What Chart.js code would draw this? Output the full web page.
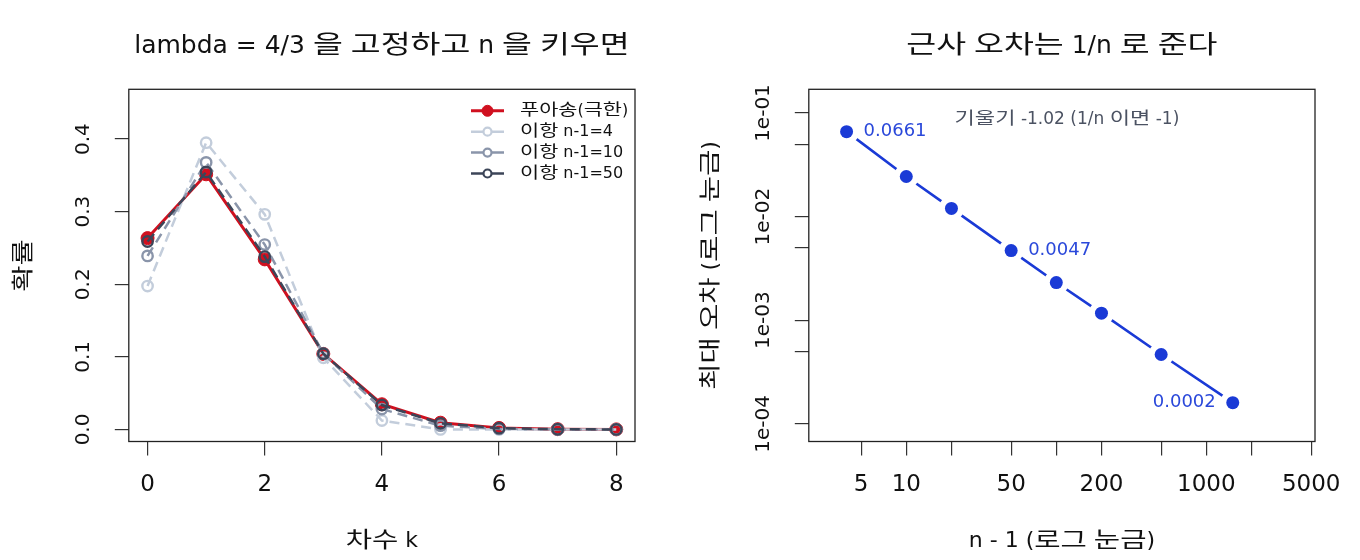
<!DOCTYPE html>
<html>
<head>
<meta charset="utf-8">
<script src="https://cdn.jsdelivr.net/npm/chart.js@4"></script>
<style>
  body { margin: 0; background: #fff; }
  canvas { position: absolute; top: 0; }
</style>
</head>
<body>
<canvas id="left" width="680" height="560" style="left:0"></canvas>
<canvas id="right" width="680" height="560" style="left:680px"></canvas>
<script>
// left panel: P(X=k), lambda = 4/3
const kValues = [0, 1, 2, 3, 4, 5, 6, 7, 8];
const poisson = [0.2636, 0.3515, 0.2343, 0.1041, 0.0347, 0.0093, 0.0021, 0.0004, 0.0001];
const binom4  = [0.1975, 0.3951, 0.2963, 0.0988, 0.0123, 0, 0, 0, 0];
const binom10 = [0.2391, 0.3679, 0.2547, 0.1045, 0.0281, 0.0052, 0.0007, 0.0001, 0];
const binom50 = [0.2589, 0.3547, 0.2381, 0.1044, 0.0336, 0.0085, 0.0017, 0.0003, 0];
const seriesNames = ['푸아송(극한)', '이항 n-1=4', '이항 n-1=10', '이항 n-1=50'];
const leftXTicks = [0, 2, 4, 6, 8];
const leftXTickLabels = ['0', '2', '4', '6', '8'];
const leftYTicks = [0, 0.1, 0.2, 0.3, 0.4];
const leftYTickLabels = ['0.0', '0.1', '0.2', '0.3', '0.4'];

// right panel: max error vs n-1 (log-log)
const errN = [4, 10, 20, 50, 100, 200, 500, 1500];
const maxErr = [0.0661, 0.0244, 0.0120, 0.0047, 0.00231, 0.00117, 0.000467, 0.00016];
const labelledPoints = [0, 3, 7];
const slopeNote = '기울기 -1.02 (1/n 이면 -1)';
const rightXTicks = [5, 10, 20, 50, 100, 200, 500, 1000, 2000, 5000];
const rightXTickLabels = ['5', '10', '', '50', '', '200', '', '1000', '', '5000'];
const rightYTicks = [1e-4, 5e-4, 1e-3, 5e-3, 1e-2, 5e-2, 1e-1];
const rightYTickLabels = ['1e-04', '', '1e-03', '', '1e-02', '', '1e-01'];

const FONT = "'DejaVu Sans', 'Noto Sans CJK KR', sans-serif";
const RED = '#d0101f', BLUE = '#1a3ad6';
const HANGUL = /[\uAC00-\uD7A3]/;

// hangul runs are drawn a bit wider, like the R device font
function drawText(ctx, s, x, y, size, color, align, rot) {
  const runs = s.match(/[\uAC00-\uD7A3]+|[^\uAC00-\uD7A3]+/g) || [];
  ctx.save();
  ctx.translate(x, y);
  if (rot) ctx.rotate(rot);
  ctx.font = size + 'px ' + FONT;
  ctx.fillStyle = color || '#111';
  ctx.textAlign = 'left';
  ctx.textBaseline = 'middle';
  const sc = r => HANGUL.test(r) ? 1.3 : 1;
  const widths = runs.map(r => ctx.measureText(r).width * sc(r));
  const total = widths.reduce((p, w) => p + w, 0);
  let cx = align === 'left' ? 0 : align === 'right' ? -total : -total / 2;
  runs.forEach((r, i) => {
    ctx.save();
    ctx.translate(cx, 0);
    ctx.scale(sc(r), 1);
    ctx.fillText(r, 0, 0);
    ctx.restore();
    cx += widths[i];
  });
  ctx.restore();
}

// box, tick labels and titles drawn R-style
const rFrame = {
  id: 'rFrame',
  afterDraw(chart, args, o) {
    const ctx = chart.ctx, a = chart.chartArea;
    const sx = chart.scales.x, sy = chart.scales.y;
    ctx.save();
    ctx.strokeStyle = '#222';
    ctx.lineWidth = 1.3;
    ctx.strokeRect(a.left, a.top, a.right - a.left, a.bottom - a.top);
    ctx.restore();
    sx.ticks.forEach(t => {
      if (t.label) drawText(ctx, t.label, sx.getPixelForValue(t.value), 485, 23);
    });
    sy.ticks.forEach(t => {
      if (t.label) drawText(ctx, t.label, a.left - 45, sy.getPixelForValue(t.value), 20, null, 'center', -Math.PI / 2);
    });
    drawText(ctx, o.title, (a.left + a.right) / 2, 46, 25);
    drawText(ctx, o.xTitle, (a.left + a.right) / 2, 541, 22);
    drawText(ctx, o.yTitle, o.yTitleX, (a.top + a.bottom) / 2, 22, null, 'center', -Math.PI / 2);
  }
};

const legendBox = {
  id: 'legendBox',
  afterDraw(chart) {
    const ctx = chart.ctx, a = chart.chartArea;
    chart.data.datasets.forEach((ds, i) => {
      const y = a.top + 21.5 + i * 20.9;
      const x0 = a.right - 164, x1 = a.right - 131, xm = (x0 + x1) / 2;
      ctx.save();
      ctx.strokeStyle = ds.borderColor;
      ctx.lineWidth = ds.borderWidth;
      ctx.beginPath(); ctx.moveTo(x0, y); ctx.lineTo(x1, y); ctx.stroke();
      ctx.beginPath();
      ctx.arc(xm, y, i === 0 ? 5.5 : 4, 0, Math.PI * 2);
      ctx.fillStyle = i === 0 ? ds.pointBackgroundColor : '#fff';
      ctx.fill();
      ctx.lineWidth = i === 0 ? 1 : 2.2;
      ctx.strokeStyle = ds.pointBorderColor;
      ctx.stroke();
      ctx.restore();
      drawText(ctx, ds.label, a.right - 115, y, 16, '#111', 'left');
    });
  }
};

const pointNotes = {
  id: 'pointNotes',
  afterDraw(chart) {
    const ctx = chart.ctx, a = chart.chartArea;
    const sx = chart.scales.x, sy = chart.scales.y;
    labelledPoints.forEach((i, j) => {
      const px = sx.getPixelForValue(errN[i]), py = sy.getPixelForValue(maxErr[i]);
      const last = j === labelledPoints.length - 1;
      drawText(ctx, maxErr[i].toFixed(4), px + (last ? -17 : 17), py, 18, '#2a48da', last ? 'right' : 'left');
    });
    drawText(ctx, slopeNote, (a.left + a.right) / 2 + 5, a.top + 30, 17, '#4b5262');
  }
};

function axis(type, min, max, values, labels, vertical) {
  return {
    type: type, min: min, max: max,
    afterBuildTicks: s => { s.ticks = values.map(v => ({ value: v })); },
    afterFit: s => { if (vertical) s.width = 128.8; else s.height = 118.5; },
    ticks: { display: false, callback: (v, i) => labels[i] },
    border: { display: false },
    grid: { display: true, drawOnChartArea: false, drawTicks: true, tickLength: 14, color: '#333', lineWidth: 1.2 }
  };
}

function xy(xs, ys) { return xs.map((x, i) => ({ x: x, y: ys[i] })); }

const commonOpts = {
  responsive: false,
  animation: false,
  events: [],
  layout: { padding: { left: 0, top: 89.3, right: 45, bottom: 0 } }
};

function binomSet(name, data, color, order) {
  return {
    label: name, data: xy(kValues, data), showLine: true, order: order,
    borderColor: color, borderWidth: 2.5, borderDash: [10, 6],
    pointRadius: 5.2, pointBorderWidth: 2.4, pointBorderColor: color,
    pointBackgroundColor: 'rgba(0,0,0,0)'
  };
}

new Chart(document.getElementById('left'), {
  type: 'scatter',
  data: {
    datasets: [
      {
        label: seriesNames[0], data: xy(kValues, poisson), showLine: true, order: 3,
        borderColor: RED, borderWidth: 3,
        pointRadius: 6.5, pointBorderWidth: 1, pointBorderColor: RED, pointBackgroundColor: RED
      },
      binomSet(seriesNames[1], binom4, '#c3cddb', 2),
      binomSet(seriesNames[2], binom10, '#8a95aa', 1),
      binomSet(seriesNames[3], binom50, '#3c4558', 0)
    ]
  },
  options: Object.assign({}, commonOpts, {
    scales: {
      x: axis('linear', -0.32, 8.32, leftXTicks, leftXTickLabels, false),
      y: axis('linear', -0.0166, 0.4686, leftYTicks, leftYTickLabels, true)
    },
    plugins: {
      legend: { display: false },
      tooltip: { enabled: false },
      rFrame: { title: 'lambda = 4/3 을 고정하고 n 을 키우면', xTitle: '차수 k', yTitle: '확률', yTitleX: 24 }
    }
  }),
  plugins: [rFrame, legendBox]
});

new Chart(document.getElementById('right'), {
  type: 'scatter',
  data: {
    datasets: [
      { label: 'line', data: xy(errN, maxErr), showLine: true, order: 2,
        borderColor: BLUE, borderWidth: 2.6, pointRadius: 0 },
      { label: 'gap', data: xy(errN, maxErr), showLine: false, order: 1,
        pointRadius: 12.5, pointBorderWidth: 0, pointBackgroundColor: '#fff', pointBorderColor: '#fff' },
      { label: 'points', data: xy(errN, maxErr), showLine: false, order: 0,
        pointRadius: 6.5, pointBorderWidth: 0, pointBackgroundColor: BLUE, pointBorderColor: BLUE }
    ]
  },
  options: Object.assign({}, commonOpts, {
    scales: {
      x: axis('logarithmic', 2.24, 5300, rightXTicks, rightXTickLabels, false),
      y: axis('logarithmic', 6.75e-5, 0.1694, rightYTicks, rightYTickLabels, true)
    },
    plugins: {
      legend: { display: false },
      tooltip: { enabled: false },
      rFrame: { title: '근사 오차는 1/n 로 준다', xTitle: 'n - 1 (로그 눈금)', yTitle: '최대 오차 (로그 눈금)', yTitleX: 31.5 }
    }
  }),
  plugins: [rFrame, pointNotes]
});
</script>
</body>
</html>
